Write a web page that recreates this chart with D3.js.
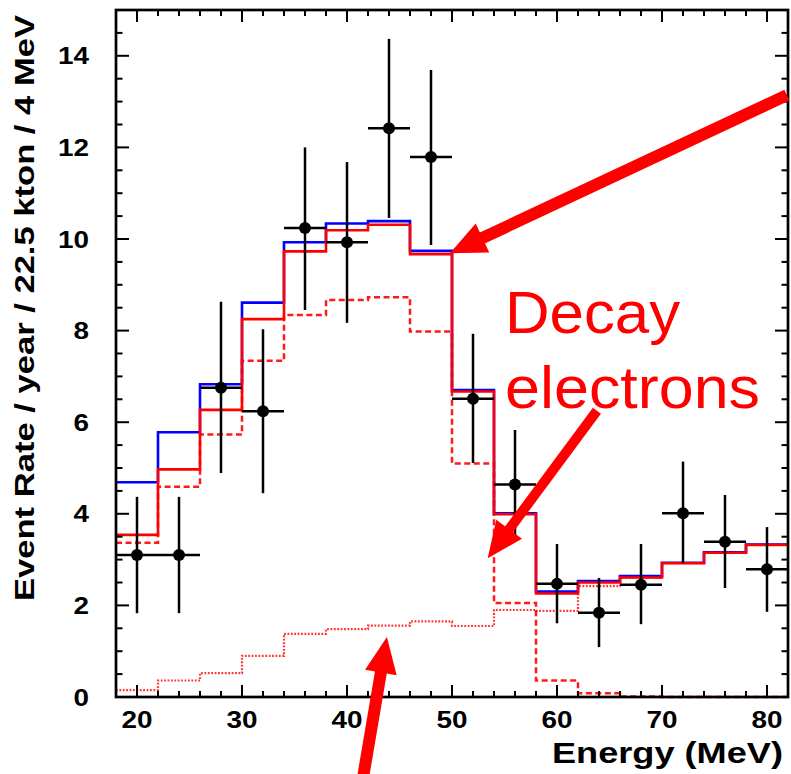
<!DOCTYPE html>
<html>
<head>
<meta charset="utf-8">
<script src="https://cdn.jsdelivr.net/npm/d3@7"></script>
<style>
  body { margin: 0; background: #fff; }
  svg { display: block; }
  text { font-family: "Liberation Sans", Arial, sans-serif; }
</style>
</head>
<body>
<div id="chart"></div>
<script>
// bin centres (4 MeV bins from 18 to 82)
var binCenters = [20, 24, 28, 32, 36, 40, 44, 48, 52, 56, 60, 64, 68, 72, 76, 80];
var binWidth = 4;

// measured points with vertical errors
var dataY    = [3.10, 3.10, 6.75, 6.24, 10.24, 9.93, 12.42, 11.79, 6.51, 4.64, 2.47, 1.84, 2.45, 4.01, 3.39, 2.79];
var dataHigh = [4.37, 4.37, 8.63, 8.03, 12.00, 11.68, 14.37, 13.69, 7.93, 5.83, 3.34, 2.60, 3.34, 5.14, 4.41, 3.71];
var dataLow  = [1.83, 1.83, 4.89, 4.45, 8.45, 8.17, 10.46, 9.87, 5.11, 3.47, 1.61, 1.09, 1.59, 2.92, 2.38, 1.86];

// expectation histograms
var blueTotal  = [4.69, 5.78, 6.83, 8.61, 9.93, 10.34, 10.39, 9.74, 6.70, 4.01, 2.30, 2.53, 2.64, 2.93, 3.16, 3.33];
var redTotal   = [3.54, 4.97, 6.27, 8.25, 9.73, 10.19, 10.31, 9.67, 6.67, 3.99, 2.26, 2.50, 2.61, 2.92, 3.15, 3.32];
var redDecay   = [3.37, 4.59, 5.73, 7.34, 8.34, 8.67, 8.73, 7.98, 5.10, 2.05, 0.36, 0.08, 0.01, 0, 0, 0];
var redOther   = [0.15, 0.36, 0.52, 0.90, 1.38, 1.48, 1.56, 1.65, 1.55, 1.90, 1.88, 2.42, 2.60, 2.92, 3.15, 3.32];

var xTickLabels = [20, 30, 40, 50, 60, 70, 80];
var yTickLabels = [0, 2, 4, 6, 8, 10, 12, 14];

var W = 791, H = 774;
var m = {left: 116, top: 10, right: 3, bottom: 77};
var w = W - m.left - m.right, h = H - m.top - m.bottom;

var svg = d3.select('#chart').append('svg')
  .attr('width', W).attr('height', H);

var x = d3.scaleLinear().domain([18, 82]).range([m.left, m.left + w]);
var y = d3.scaleLinear().domain([0, 15]).range([m.top + h, m.top]);

var plot = svg.append('g').attr('class', 'plot');

// histogram path: step through bin edges
function histPath(vals) {
  var pts = vals.map(function(v, i) { return [binCenters[i] - binWidth / 2, v]; });
  pts.push([binCenters[binCenters.length - 1] + binWidth / 2, vals[vals.length - 1]]);
  return d3.line()
    .x(function(d) { return x(d[0]); })
    .y(function(d) { return y(d[1]); })
    .curve(d3.curveStepAfter)(pts);
}

function drawHist(vals, color, width, dash, op) {
  plot.append('path')
    .attr('d', histPath(vals))
    .attr('fill', 'none')
    .attr('stroke', color)
    .attr('stroke-opacity', op || 1)
    .attr('stroke-width', width)
    .attr('stroke-dasharray', dash || null);
}

drawHist(redOther, '#ff0000', 2.2, '1.8,1.6', 0.8);
drawHist(redDecay, '#ff0000', 2.5, '6,3.5', 0.9);
drawHist(blueTotal, '#0000ff', 2.6);
drawHist(redTotal, '#ff0000', 2.6);

// data points
var pts = binCenters.map(function(c, i) {
  return {x: c, y: dataY[i], hi: dataHigh[i], lo: dataLow[i]};
});
var gp = plot.selectAll('g.pt').data(pts).enter().append('g').attr('class', 'pt');
gp.append('line')
  .attr('x1', function(d) { return x(d.x); })
  .attr('x2', function(d) { return x(d.x); })
  .attr('y1', function(d) { return y(d.hi); })
  .attr('y2', function(d) { return y(d.lo); })
  .attr('stroke', '#000').attr('stroke-width', 2.5);
gp.append('line')
  .attr('x1', function(d) { return x(d.x - binWidth / 2); })
  .attr('x2', function(d) { return x(d.x + binWidth / 2); })
  .attr('y1', function(d) { return y(d.y); })
  .attr('y2', function(d) { return y(d.y); })
  .attr('stroke', '#000').attr('stroke-width', 2.5);
gp.append('circle')
  .attr('cx', function(d) { return x(d.x); })
  .attr('cy', function(d) { return y(d.y); })
  .attr('r', 6)
  .attr('fill', '#000');

// frame + ticks (ROOT style, inside, all four sides)
var axes = svg.append('g').attr('class', 'axes');
var xMinor = d3.range(18, 82.01, 2), yMinor = d3.range(0, 15.01, 0.5);

function tickLen(v, step, major) { return Math.abs(v / step - Math.round(v / step)) < 1e-6 ? major : major / 2; }

xMinor.forEach(function(v) {
  var L = tickLen(v, 10, 12);
  axes.append('line').attr('x1', x(v)).attr('x2', x(v))
    .attr('y1', y(0)).attr('y2', y(0) - L)
    .attr('stroke', '#000').attr('stroke-width', 2);
  axes.append('line').attr('x1', x(v)).attr('x2', x(v))
    .attr('y1', y(15)).attr('y2', y(15) + L)
    .attr('stroke', '#000').attr('stroke-width', 2);
});
yMinor.forEach(function(v) {
  var L = tickLen(v, 2, 13);
  axes.append('line').attr('y1', y(v)).attr('y2', y(v))
    .attr('x1', x(18)).attr('x2', x(18) + L)
    .attr('stroke', '#000').attr('stroke-width', 2);
  axes.append('line').attr('y1', y(v)).attr('y2', y(v))
    .attr('x1', x(82)).attr('x2', x(82) - L)
    .attr('stroke', '#000').attr('stroke-width', 2);
});
axes.append('rect')
  .attr('x', x(18)).attr('y', y(15))
  .attr('width', x(82) - x(18)).attr('height', y(0) - y(15))
  .attr('fill', 'none').attr('stroke', '#000').attr('stroke-width', 2.7);

// tick labels
axes.selectAll('text.xl').data(xTickLabels).enter().append('text')
  .attr('class', 'xl')
  .attr('x', function(d) { return x(d); })
  .attr('y', 728)
  .attr('text-anchor', 'middle')
  .attr('font-size', 24).attr('font-weight', 'bold')
  .attr('textLength', 31).attr('lengthAdjust', 'spacingAndGlyphs')
  .text(function(d) { return d; });

axes.selectAll('text.yl').data(yTickLabels).enter().append('text')
  .attr('class', 'yl')
  .attr('x', 89)
  .attr('y', function(d) { return y(d) + 8.5; })
  .attr('text-anchor', 'end')
  .attr('font-size', 24).attr('font-weight', 'bold')
  .attr('textLength', function(d) { return String(d).length * 15.5; })
  .attr('lengthAdjust', 'spacingAndGlyphs')
  .text(function(d) { return d; });

// axis titles
svg.append('text')
  .attr('x', 783).attr('y', 763)
  .attr('text-anchor', 'end')
  .attr('font-size', 30).attr('font-weight', 'bold')
  .attr('textLength', 231).attr('lengthAdjust', 'spacingAndGlyphs')
  .text('Energy (MeV)');

svg.append('text')
  .attr('transform', 'translate(34,601) rotate(-90)')
  .attr('font-size', 28).attr('font-weight', 'bold')
  .attr('textLength', 586).attr('lengthAdjust', 'spacingAndGlyphs')
  .text('Event Rate / year / 22.5 kton / 4 MeV');

// annotations (data coordinates)
var arrows = [
  {from: [81.9, 13.14], to: [49.8, 9.69], w: 12},
  {from: [63.8, 6.25], to: [53.4, 3.03], w: 10},
  {from: [41.2, -2.2], to: [43.8, 1.31], w: 12}
];
var ann = svg.append('g').attr('class', 'ann');
arrows.forEach(function(a) {
  var x0 = x(a.from[0]), y0 = y(a.from[1]), x1 = x(a.to[0]), y1 = y(a.to[1]);
  var dx = x1 - x0, dy = y1 - y0, len = Math.sqrt(dx * dx + dy * dy);
  var ux = dx / len, uy = dy / len, hl = 36, hw = 16;
  var bx = x1 - ux * hl, by = y1 - uy * hl;
  ann.append('line')
    .attr('x1', x0).attr('y1', y0).attr('x2', bx + ux * 2).attr('y2', by + uy * 2)
    .attr('stroke', '#ff0000').attr('stroke-width', a.w);
  ann.append('polygon')
    .attr('points', [[x1, y1], [bx - uy * hw, by + ux * hw], [bx + uy * hw, by - ux * hw]].join(' '))
    .attr('fill', '#ff0000');
});

ann.append('text')
  .attr('x', x(55.05)).attr('y', y(7.95))
  .attr('font-size', 60).attr('fill', '#ff0000')
  .attr('textLength', 175).attr('lengthAdjust', 'spacingAndGlyphs')
  .text('Decay');
ann.append('text')
  .attr('x', x(55.05)).attr('y', y(6.31))
  .attr('font-size', 60).attr('fill', '#ff0000')
  .attr('textLength', 255).attr('lengthAdjust', 'spacingAndGlyphs')
  .text('electrons');
</script>
</body>
</html>
